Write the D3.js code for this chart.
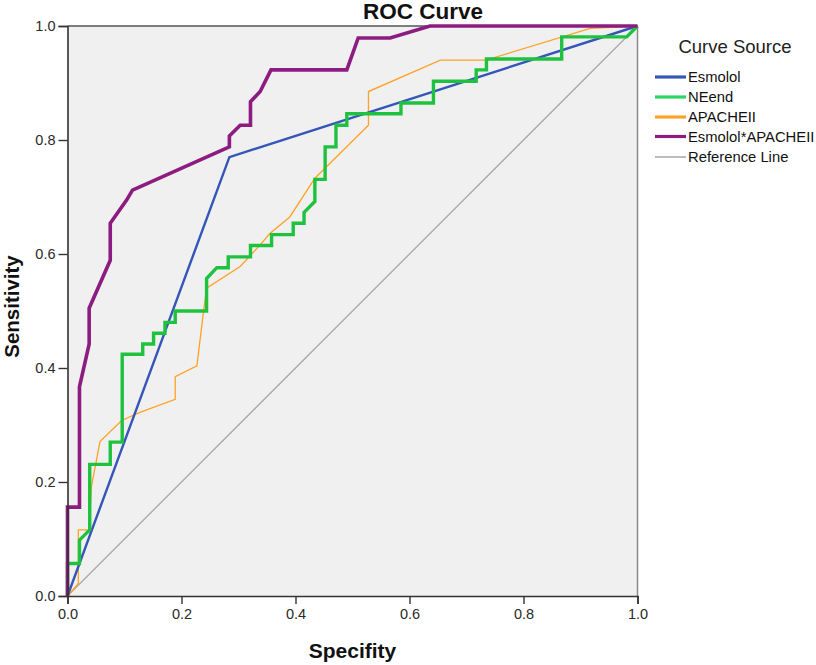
<!DOCTYPE html>
<html>
<head>
<meta charset="utf-8">
<script src="https://cdn.jsdelivr.net/npm/d3@7"></script>
<style>
  html, body { margin: 0; padding: 0; background: #fff; }
  svg { display: block; font-family: "Liberation Sans", Arial, sans-serif; }
</style>
</head>
<body>
<svg id="chart" width="816" height="665"></svg>
<script>
// ---- Data ----
const seriesNames = ["Esmolol", "NEend", "APACHEII", "Esmolol*APACHEII", "Reference Line"];
const seriesColors = ["#3556b8", "#1ec23e", "#ffa126", "#8c1c80", "#a8a8a8"];
const legendColors = ["#3556b8", "#2bd666", "#ffa126", "#8c1c80", "#bdbdbd"];
const seriesWidths = [2.4, 3.4, 1.3, 3.6, 1.3];

const esmolol = [[0,0],[0.284,0.770],[1,1]];
const neend = [[0,0],[0,0.057],[0.021,0.057],[0.021,0.098],[0.039,0.116],[0.039,0.231],
  [0.075,0.231],[0.075,0.270],[0.096,0.270],[0.096,0.424],[0.132,0.424],[0.132,0.442],
  [0.151,0.442],[0.151,0.461],[0.171,0.461],[0.171,0.480],[0.189,0.480],[0.189,0.500],
  [0.244,0.500],[0.244,0.557],[0.262,0.576],[0.282,0.576],[0.282,0.595],[0.321,0.595],
  [0.321,0.615],[0.358,0.615],[0.358,0.634],[0.396,0.634],[0.396,0.654],[0.415,0.654],
  [0.415,0.673],[0.434,0.692],[0.434,0.731],[0.452,0.731],[0.452,0.788],[0.471,0.788],
  [0.471,0.826],[0.490,0.826],[0.490,0.846],[0.585,0.846],[0.585,0.865],[0.642,0.865],
  [0.642,0.903],[0.717,0.903],[0.717,0.923],[0.735,0.923],[0.735,0.942],[0.867,0.942],
  [0.867,0.981],[0.981,0.981],[1,1]];
const apache = [[0,0],[0.019,0.022],[0.019,0.116],[0.038,0.116],[0.042,0.192],[0.057,0.271],
  [0.095,0.308],[0.127,0.322],[0.189,0.345],[0.189,0.385],[0.227,0.404],[0.239,0.502],
  [0.244,0.540],[0.303,0.578],[0.338,0.616],[0.355,0.636],[0.390,0.665],[0.434,0.733],
  [0.528,0.826],[0.528,0.885],[0.654,0.940],[0.734,0.940],[0.917,0.996],[1,1]];
const combined = [[0,0],[0,0.156],[0.021,0.156],[0.021,0.367],[0.038,0.442],[0.038,0.505],
  [0.075,0.589],[0.075,0.654],[0.104,0.695],[0.114,0.712],[0.284,0.788],[0.284,0.807],
  [0.303,0.826],[0.321,0.826],[0.321,0.867],[0.338,0.885],[0.357,0.923],[0.490,0.923],
  [0.510,0.979],[0.566,0.979],[0.636,1.0],[1,1]];
const reference = [[0,0],[1,1]];
const tickValues = [0, 0.2, 0.4, 0.6, 0.8, 1.0];

const svg = d3.select("#chart");
const x = d3.scaleLinear().domain([0,1]).range([67.5, 637.5]);
const y = d3.scaleLinear().domain([0,1]).range([596, 26]);

// plot background
svg.append("rect").attr("x", x(0)).attr("y", y(1))
  .attr("width", x(1)-x(0)).attr("height", y(0)-y(1)).attr("fill", "#f0f0f0");
svg.append("line").attr("x1", x(0)).attr("x2", x(1)).attr("y1", y(1)).attr("y2", y(1))
  .attr("stroke", "#555").attr("stroke-width", 1.5);
svg.append("line").attr("x1", x(1)).attr("x2", x(1)).attr("y1", y(1)).attr("y2", y(0))
  .attr("stroke", "#8a8a8a").attr("stroke-width", 1.5);

// lines
const line = d3.line().x(d => x(d[0])).y(d => y(d[1]));
const drawOrder = [
  {data: reference, i: 4},
  {data: apache, i: 2},
  {data: esmolol, i: 0},
  {data: neend, i: 1},
  {data: combined, i: 3}
];
drawOrder.forEach(s => {
  svg.append("path").datum(s.data).attr("d", line).attr("fill", "none")
    .attr("stroke", seriesColors[s.i]).attr("stroke-width", seriesWidths[s.i])
    .attr("stroke-linejoin", "miter");
});

// axes
const fmt = d3.format(".1f");
const xAxis = svg.append("g").attr("transform", `translate(0,${y(0)})`)
  .call(d3.axisBottom(x).tickValues(tickValues).tickFormat(fmt).tickSize(8).tickPadding(5));
const yAxis = svg.append("g").attr("transform", `translate(${x(0)},0)`)
  .call(d3.axisLeft(y).tickValues(tickValues).tickFormat(fmt).tickSize(9).tickPadding(3));
[xAxis, yAxis].forEach(a => {
  a.select(".domain").attr("stroke", "#333").attr("stroke-width", 1.6);
  a.selectAll(".tick line").attr("stroke", "#333").attr("stroke-width", 1.4);
  a.selectAll(".tick text").attr("fill", "#2a2a2a")
    .style("font-family", "'Liberation Sans', Arial, sans-serif").style("font-size", "14.5px");
});

// titles
svg.append("text").attr("x", 423).attr("y", 19).attr("text-anchor", "middle")
  .style("font-size", "22.5px").style("font-weight", "bold").attr("fill", "#111").text("ROC Curve");
svg.append("text").attr("x", 352.5).attr("y", 658).attr("text-anchor", "middle")
  .style("font-size", "21px").style("font-weight", "bold").attr("fill", "#111").text("Specifity");
svg.append("text").attr("transform", "translate(19,306.5) rotate(-90)").attr("text-anchor", "middle")
  .style("font-size", "20.5px").style("font-weight", "bold").attr("fill", "#111").text("Sensitivity");

// legend
svg.append("text").attr("x", 735).attr("y", 46).attr("text-anchor", "middle")
  .attr("dominant-baseline", "central").style("font-size", "18.5px").attr("fill", "#222")
  .text("Curve Source");
const legendY = [77, 97, 117, 136.5, 157];
const lg = svg.append("g");
seriesNames.forEach((name, i) => {
  lg.append("line").attr("x1", 655).attr("x2", 686).attr("y1", legendY[i]).attr("y2", legendY[i])
    .attr("stroke", legendColors[i]).attr("stroke-width", i === 4 ? 2 : 3.2);
  lg.append("text").attr("x", 688).attr("y", legendY[i]).attr("dominant-baseline", "central")
    .style("font-size", "14.8px").attr("fill", "#111").text(name);
});
</script>
</body>
</html>
